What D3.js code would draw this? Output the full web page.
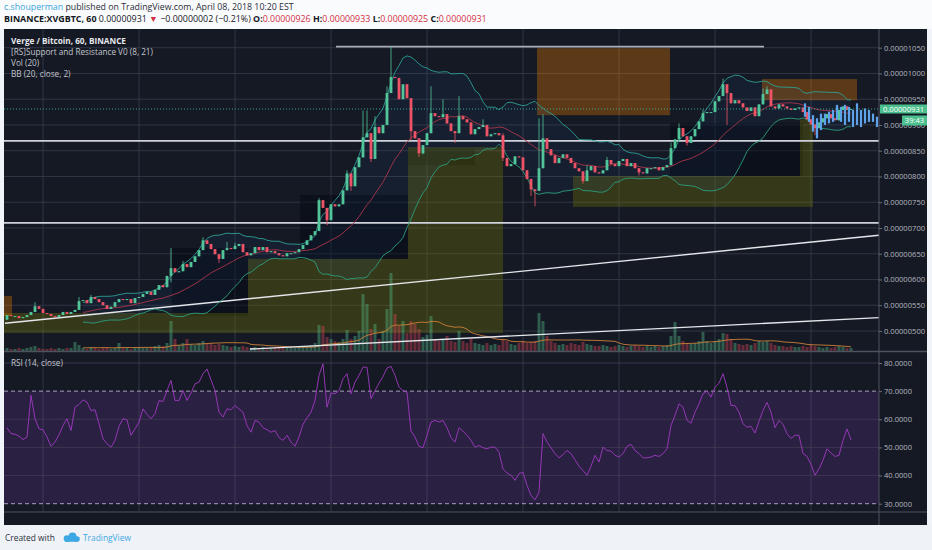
<!DOCTYPE html>
<html lang="en">
<head>
<meta charset="UTF-8">
<title>Verge / Bitcoin, 60, BINANCE</title>
<script src="https://d3js.org/d3.v7.min.js"></script>
<style>
    body { margin: 0; background: #f1f4f9; }
    svg { display: block; }
    .ax text { fill: #b2b5be; font-family: "Open Sans", sans-serif; font-size: 7.6px; }
    .ax .domain { display: none; }
    .ax line { stroke: #6a6f7b; }
</style>
</head>
<body>
<svg id="chart" width="932" height="550"></svg>
<script>
// hourly closes, in satoshi (1e-8 BTC), Mar 30 15:00 .. Apr 8 10:00
const closes = [
    531, 529, 529, 525, 527, 531, 537, 548, 543, 535,
    533, 529, 527, 531, 537, 533, 537, 541, 558, 560,
    554, 566, 562, 556, 550, 543, 547, 556, 562, 560,
    562, 554, 564, 566, 572, 576, 570, 580, 589, 585,
    607, 622, 614, 616, 630, 624, 634, 645, 657, 676,
    669, 659, 649, 640, 657, 661, 659, 665, 669, 653,
    647, 651, 663, 657, 663, 653, 655, 651, 647, 645,
    651, 651, 653, 659, 667, 676, 686, 694, 754, 739,
    715, 746, 742, 746, 773, 806, 781, 818, 837, 876,
    884, 834, 896, 884, 900, 962, 993, 991, 950, 979,
    952, 888, 874, 845, 861, 884, 923, 917, 915, 921,
    903, 888, 884, 917, 911, 905, 882, 892, 896, 900,
    878, 882, 884, 880, 836, 820, 824, 839, 837, 812,
    795, 775, 772, 816, 874, 853, 841, 826, 836, 843,
    836, 826, 816, 810, 791, 812, 820, 808, 806, 812,
    832, 824, 820, 830, 834, 820, 826, 816, 808, 806,
    816, 816, 818, 812, 818, 822, 855, 872, 894, 878,
    865, 878, 892, 907, 923, 925, 925, 946, 956, 979,
    962, 942, 948, 942, 934, 927, 934, 917, 940, 960,
    969, 936, 932, 940, 936, 932, 929, 932, 934, 925,
    911, 901, 894, 905, 913, 921, 913, 909, 929, 936,
    929, 931
];
const firstOpen = 522;

// visible wicks only (candle index -> price)
const highWicks = { 7: 556, 18: 566, 21: 570, 41: 661, 44: 636, 49: 682, 55: 673, 57: 671, 78: 758, 85: 812,
    89: 928, 90: 928, 92: 917, 95: 975, 96: 1052, 98: 992, 106: 975, 109: 950, 113: 956, 119: 911,
    124: 884, 133: 913, 134: 921, 145: 822, 150: 838, 166: 866, 168: 903, 174: 930, 179: 990, 189: 971, 190: 975 };
const lowWicks = { 41: 595, 53: 632, 80: 705, 86: 772, 91: 828, 101: 870, 103: 838, 104: 843, 112: 865,
    124: 830, 131: 762, 132: 742, 144: 786, 158: 802, 170: 860, 180: 900, 202: 880 };

const volumes = [
    3, 2, 2, 3, 2, 3, 4, 5, 3, 2,
    2, 3, 2, 3, 2, 3, 3, 9, 6, 3,
    2, 4, 3, 2, 3, 3, 2, 3, 8, 3,
    3, 2, 3, 4, 3, 3, 4, 5, 6, 5,
    8, 30, 12, 6, 8, 12, 7, 6, 8, 10,
    7, 8, 6, 7, 6, 5, 4, 5, 4, 5,
    4, 3, 4, 3, 4, 3, 3, 4, 3, 3,
    3, 4, 3, 4, 5, 4, 6, 8, 26, 25,
    14, 12, 10, 9, 12, 21, 12, 15, 20, 57,
    47, 22, 27, 12, 20, 42, 78, 37, 25, 30,
    18, 30, 27, 22, 14, 16, 35, 12, 10, 12,
    15, 10, 9, 20, 10, 8, 12, 8, 7, 6,
    8, 6, 7, 6, 12, 10, 7, 6, 8, 10,
    8, 9, 10, 38, 30, 15, 10, 8, 6, 7,
    6, 8, 7, 6, 9, 7, 6, 5, 5, 6,
    5, 4, 5, 6, 5, 4, 5, 6, 5, 4,
    5, 4, 5, 4, 5, 6, 15, 29, 15, 10,
    8, 7, 8, 10, 19, 10, 8, 10, 12, 18,
    17, 12, 8, 7, 6, 7, 6, 8, 10, 9,
    10, 8, 6, 5, 5, 4, 5, 4, 4, 5,
    4, 6, 5, 4, 3, 4, 3, 4, 5, 4,
    3, 3
];

const rsiValues = [
    57.0, 54.9, 54.7, 54.0, 52.8, 53.7, 68.5, 60.2, 56.6, 56.3,
    53.7, 50.4, 51.9, 54.5, 57.8, 60.2, 56.0, 64.3, 65.3, 66.9,
    66.1, 63.1, 63.4, 58.4, 53.1, 51.3, 50.1, 52.5, 57.5, 60.2,
    59.8, 54.3, 56.6, 59.0, 63.7, 61.7, 60.2, 62.0, 66.7, 66.3,
    70.2, 73.8, 66.7, 66.7, 70.2, 66.7, 69.3, 72.6, 73.2, 76.2,
    77.9, 74.0, 70.2, 62.5, 60.8, 63.7, 63.4, 64.9, 63.7, 62.5,
    57.8, 55.4, 59.6, 59.0, 57.0, 56.3, 55.4, 56.0, 53.5, 52.5,
    54.3, 51.9, 50.4, 53.7, 58.2, 60.5, 62.5, 66.7, 75.6, 79.7,
    64.3, 69.3, 69.1, 70.2, 74.4, 76.2, 69.1, 73.2, 75.6, 78.5,
    78.5, 67.3, 70.2, 72.8, 75.2, 78.2, 78.8, 75.6, 71.4, 70.2,
    69.6, 55.8, 53.7, 50.4, 49.9, 54.3, 59.0, 59.6, 59.0, 59.6,
    57.0, 53.5, 51.9, 57.0, 55.8, 54.3, 52.5, 50.1, 50.7, 49.9,
    49.5, 50.1, 50.1, 48.3, 42.4, 40.9, 40.1, 38.3, 40.7, 41.2,
    36.5, 33.0, 31.4, 34.1, 54.9, 51.9, 49.9, 47.8, 46.3, 47.5,
    48.9, 47.8, 45.6, 43.3, 41.8, 40.1, 43.3, 47.2, 44.8, 50.1,
    48.9, 48.7, 47.2, 46.6, 47.8, 50.4, 51.1, 48.9, 47.8, 46.3,
    46.3, 46.6, 47.2, 46.8, 47.8, 49.5, 57.8, 61.4, 65.5, 64.3,
    59.6, 58.6, 62.5, 65.5, 69.1, 70.0, 67.9, 71.4, 72.8, 76.2,
    71.4, 64.9, 64.9, 62.5, 58.4, 57.2, 57.5, 55.1, 59.3, 63.1,
    66.0, 62.5, 57.0, 59.6, 58.2, 54.9, 53.2, 54.3, 54.3, 47.8,
    46.8, 44.0, 40.1, 42.4, 45.4, 49.5, 48.0, 46.8, 47.2, 52.5,
    56.6, 52.7
];

// blue projected bars, from hour 199.5 every hour
const projTops = [942, 935, 919, 913, 922, 922, 926, 929, 939, 935, 939, 935, 929, 942, 929, 932, 929, 922, 916];
const projBottoms = [916, 906, 887, 874, 890, 900, 903, 906, 910, 906, 900, 906, 896, 900, 896, 903, 906, 906, 896];

// [RS]Support and Resistance zones (hour offsets, prices)
const resistanceZones = [
    { h0: -0.75, h1: 1.25, top: 568, bottom: 529 },
    { h0: 132.5, h1: 165.75, top: 1049, bottom: 919 },
    { h0: 188.75, h1: 212.5, top: 989, bottom: 948 }
];
const supportZones = [
    { h0: -0.75, h1: 60.25, top: 535, bottom: 496 },
    { h0: 60.25, h1: 100.25, top: 640, bottom: 496 },
    { h0: 100.25, h1: 124, top: 857, bottom: 496 },
    { h0: 141.5, h1: 201.5, top: 801, bottom: 741 },
    { h0: 198.25, h1: 201.5, top: 911, bottom: 801 }
];
const rangeZones = [
    { h0: 41.25, h1: 60.25, top: 661, bottom: 529 },
    { h0: 73.25, h1: 100.25, top: 764, bottom: 640 },
    { h0: 100.25, h1: 117, top: 853, bottom: 822 },
    { h0: 165.75, h1: 199, top: 903, bottom: 801 }
];

// drawn lines
const supportLevels = [869, 710];
const topLevel = { h0: 82.25, h1: 189.25, price: 1052 };
const trendLines = [
    { h0: -0.5, p0: 515, h1: 218, p1: 686 },
    { h0: 60.75, p0: 465, h1: 218, p1: 526 }
];

const priceTicks = d3.range(500, 1051, 50);
const rsiTicks = [30, 40, 50, 60, 70, 80];
const dayTickHours = [9, 33, 57, 81, 105, 129, 153, 177, 201, 216];
const dayLabels = ["31", "Apr", "2", "3", "4", "5", "6", "7", "8", "15:00"];
const lastPrice = 931;

const t0 = Date.UTC(2018, 2, 30, 15);
const hourDate = h => new Date(t0 + h * 3600e3);

const svg = d3.select("#chart");
const font = '"Open Sans", sans-serif';

// panes
const L = 4, R = 879, TOP = 29, MAINB = 351, RSIB = 512, BOT = 525, AXR = 927;

const x = d3.scaleUtc().domain([hourDate(0), hourDate(211)]).range([7, 851]);
const y = d3.scaleLinear().domain([500, 1050]).range([331, 47.7]);
const yVol = d3.scaleLinear().domain([0, 80]).range([MAINB, MAINB - 80]);
const yRsi = d3.scaleLinear().domain([30, 80]).range([503.7, 363]);

// header
svg.append("rect").attr("width", 932).attr("height", TOP).attr("fill", "#fafbfd");
const h1 = svg.append("text").attr("x", 4).attr("y", 10)
    .attr("font-family", font).attr("font-size", 8.8).attr("fill", "#2a2e39");
h1.append("tspan").attr("fill", "#3aa6dd").text("c.shouperman");
h1.append("tspan").text(" published on TradingView.com, April 08, 2018 10:20 EST");

const red = "#d42d3d";
const parts = [
    { t: "BINANCE:XVGBTC, 60 ", b: true }, { t: "0.00000931 " }, { t: "\u25BC ", c: red },
    { t: "\u22120.00000002 (\u22120.21%) " },
    { t: "O:", b: true }, { t: "0.00000926 ", c: red }, { t: "H:", b: true }, { t: "0.00000933 ", c: red },
    { t: "L:", b: true }, { t: "0.00000925 ", c: red }, { t: "C:", b: true }, { t: "0.00000931", c: red }
];
const h2 = svg.append("text").attr("x", 4).attr("y", 21.5)
    .attr("font-family", font).attr("font-size", 8.9).attr("fill", "#131722");
parts.forEach(p => h2.append("tspan").attr("font-weight", p.b ? "bold" : null)
    .attr("fill", p.c || null).text(p.t));

// chart background
svg.append("rect").attr("x", L).attr("y", TOP).attr("width", AXR - L).attr("height", BOT - TOP).attr("fill", "#151924");

svg.append("defs").call(d => {
    d.append("clipPath").attr("id", "mainClip").append("rect")
        .attr("x", L).attr("y", TOP).attr("width", R - L).attr("height", MAINB - TOP);
    d.append("clipPath").attr("id", "rsiClip").append("rect")
        .attr("x", L).attr("y", MAINB).attr("width", R - L).attr("height", RSIB - MAINB);
    d.append("clipPath").attr("id", "timeClip").append("rect")
        .attr("x", L).attr("y", RSIB).attr("width", R - L).attr("height", BOT - RSIB);
});

// grid
const gridColor = "#303644";
const grid = svg.append("g");
grid.selectAll(".vg").data(dayTickHours.slice(0, 9)).join("line")
    .attr("x1", h => x(hourDate(h))).attr("x2", h => x(hourDate(h)))
    .attr("y1", TOP).attr("y2", RSIB).attr("stroke", gridColor);
grid.selectAll(".hg").data(priceTicks).join("line")
    .attr("x1", L).attr("x2", R).attr("y1", d => y(d)).attr("y2", d => y(d)).attr("stroke", gridColor);

// main pane
const main = svg.append("g").attr("clip-path", "url(#mainClip)");

const zoneRect = (g, data, fill) => g.selectAll(null).data(data).join("rect")
    .attr("x", d => x(hourDate(d.h0))).attr("width", d => x(hourDate(d.h1)) - x(hourDate(d.h0)))
    .attr("y", d => y(d.top)).attr("height", d => y(d.bottom) - y(d.top)).attr("fill", fill);
zoneRect(main, rangeZones, "rgba(3,6,16,0.45)");
zoneRect(main, supportZones, "rgba(128,128,0,0.3)");
zoneRect(main, resistanceZones, "rgba(230,120,0,0.35)");

const candles = closes.map((c, i) => {
    const o = i === 0 ? firstOpen : closes[i - 1];
    return {
        t: hourDate(i), o, c,
        h: highWicks[i] !== undefined ? highWicks[i] : Math.max(o, c),
        l: lowWicks[i] !== undefined ? lowWicks[i] : Math.min(o, c),
        v: volumes[i]
    };
});
const up = "#53c59a", down = "#ee5468";

// Bollinger Bands (20, close, 2)
const bb = [];
closes.forEach((c, i) => {
    if (i < 19) return;
    const win = closes.slice(i - 19, i + 1);
    const m = d3.mean(win);
    const sd = Math.sqrt(d3.mean(win, v => (v - m) * (v - m)));
    bb.push({ t: hourDate(i), m, u: m + 2 * sd, lo: m - 2 * sd });
});
main.append("path").datum(bb).attr("fill", "rgba(40,120,200,0.07)")
    .attr("d", d3.area().x(d => x(d.t)).y0(d => y(d.lo)).y1(d => y(d.u)));

// volume
main.selectAll(".vol").data(candles).join("rect")
    .attr("x", d => x(d.t) - 1.5).attr("width", 3)
    .attr("y", d => yVol(d.v)).attr("height", d => MAINB - yVol(d.v))
    .attr("fill", d => d.c >= d.o ? "rgba(83,185,135,0.42)" : "rgba(235,77,92,0.38)");
const volMa = [];
volumes.forEach((v, i) => { if (i >= 19) volMa.push({ t: hourDate(i), v: d3.mean(volumes.slice(i - 19, i + 1)) }); });
main.append("path").datum(volMa).attr("fill", "none").attr("stroke", "#d4843a").attr("stroke-opacity", 0.85)
    .attr("d", d3.line().x(d => x(d.t)).y(d => yVol(d.v)));

// drawn levels & trend lines
main.selectAll(".lvl").data(supportLevels).join("line")
    .attr("x1", L).attr("x2", R).attr("y1", d => y(d)).attr("y2", d => y(d))
    .attr("stroke", "#cfd2da").attr("stroke-width", 1.8);
main.append("line").attr("x1", x(hourDate(topLevel.h0))).attr("x2", x(hourDate(topLevel.h1)))
    .attr("y1", y(topLevel.price)).attr("y2", y(topLevel.price)).attr("stroke", "#a9adb6").attr("stroke-width", 1.6);
main.selectAll(".tl").data(trendLines).join("line")
    .attr("x1", d => x(hourDate(d.h0))).attr("y1", d => y(d.p0))
    .attr("x2", d => x(hourDate(d.h1))).attr("y2", d => y(d.p1))
    .attr("stroke", "#e4e6eb").attr("stroke-width", 1.4);

// BB lines
const bbLine = key => d3.line().x(d => x(d.t)).y(d => y(d[key]));
main.append("path").datum(bb).attr("fill", "none").attr("stroke", "#2c9d92").attr("stroke-width", 0.9).attr("d", bbLine("u"));
main.append("path").datum(bb).attr("fill", "none").attr("stroke", "#2c9d7a").attr("stroke-width", 0.9).attr("d", bbLine("lo"));
main.append("path").datum(bb).attr("fill", "none").attr("stroke", "#a8344a").attr("stroke-width", 0.9).attr("d", bbLine("m"));

// candles
const cg = main.selectAll(".candle").data(candles).join("g");
cg.append("line").attr("x1", d => x(d.t)).attr("x2", d => x(d.t))
    .attr("y1", d => y(d.h)).attr("y2", d => y(d.l))
    .attr("stroke", d => d.c >= d.o ? up : down).attr("stroke-width", 0.8);
cg.append("rect").attr("x", d => x(d.t) - 1.4).attr("width", 2.8)
    .attr("y", d => y(Math.max(d.o, d.c)))
    .attr("height", d => Math.max(1, Math.abs(y(d.o) - y(d.c))))
    .attr("fill", d => d.c >= d.o ? up : down);

// projected bars
const proj = projTops.map((tp, k) => ({ t: hourDate(199.5 + k), top: tp, bottom: projBottoms[k] }));
main.selectAll(".proj").data(proj).join("rect")
    .attr("x", d => x(d.t) - 1.1).attr("width", 2.2)
    .attr("y", d => y(d.top)).attr("height", d => y(d.bottom) - y(d.top))
    .attr("fill", "#5ea3ea");

// last price line
main.append("line").attr("x1", L).attr("x2", R).attr("y1", y(lastPrice)).attr("y2", y(lastPrice))
    .attr("stroke", "#3fb6a0").attr("stroke-width", 0.9).attr("stroke-dasharray", "1,2");

// legend
const legend = [
    { t: "Verge / Bitcoin, 60, BINANCE", b: true },
    { t: "[RS]Support and Resistance V0 (8, 21)" },
    { t: "Vol (20)" },
    { t: "BB (20, close, 2)" }
];
svg.selectAll(".leg").data(legend).join("text")
    .attr("x", 11).attr("y", (d, i) => 43.5 + i * 11.2)
    .attr("font-family", font).attr("font-size", 8.2)
    .attr("font-weight", d => d.b ? "bold" : null)
    .attr("fill", d => d.b ? "#e6e8ee" : "#c3c6ce").text(d => d.t);

// RSI pane
const rsiG = svg.append("g").attr("clip-path", "url(#rsiClip)");
rsiG.append("rect").attr("x", L).attr("width", R - L).attr("y", yRsi(70)).attr("height", yRsi(30) - yRsi(70))
    .attr("fill", "rgba(128,60,190,0.2)");
rsiG.selectAll(".rg").data([40, 50, 60, 80]).join("line")
    .attr("x1", L).attr("x2", R).attr("y1", d => yRsi(d)).attr("y2", d => yRsi(d))
    .attr("stroke", "#3c3550");
rsiG.selectAll(".rd").data([70, 30]).join("line")
    .attr("x1", L).attr("x2", R).attr("y1", d => yRsi(d)).attr("y2", d => yRsi(d))
    .attr("stroke", "#a99fc0").attr("stroke-dasharray", "4,3");
rsiG.append("path").datum(rsiValues).attr("fill", "none").attr("stroke", "#a03ac2").attr("stroke-width", 0.9)
    .attr("d", d3.line().x((d, i) => x(hourDate(i))).y(d => yRsi(d)));
svg.append("text").attr("x", 11).attr("y", 365.5).attr("font-family", font).attr("font-size", 8.2)
    .attr("fill", "#c3c6ce").text("RSI (14, close)");

// separators
svg.append("line").attr("x1", L).attr("x2", AXR).attr("y1", MAINB + 0.5).attr("y2", MAINB + 0.5).attr("stroke", "#4d525e").attr("stroke-width", 1.5);
svg.append("line").attr("x1", L).attr("x2", AXR).attr("y1", RSIB).attr("y2", RSIB).attr("stroke", "#4d525e");
svg.append("line").attr("x1", R).attr("x2", R).attr("y1", TOP).attr("y2", BOT).attr("stroke", "#4d525e");

// axes
svg.append("g").attr("class", "ax").attr("transform", `translate(${R},0)`)
    .call(d3.axisRight(y).tickValues(priceTicks).tickSize(3).tickPadding(2)
        .tickFormat(v => (v / 1e8).toFixed(8)));
svg.append("g").attr("class", "ax").attr("transform", `translate(${R},0)`)
    .call(d3.axisRight(yRsi).tickValues(rsiTicks).tickSize(3).tickPadding(2)
        .tickFormat(v => v.toFixed(4)));
svg.append("g").attr("class", "ax").attr("clip-path", "url(#timeClip)")
    .attr("transform", `translate(0,${RSIB})`)
    .call(d3.axisBottom(x).tickValues(dayTickHours.map(hourDate)).tickSize(0).tickPadding(4)
        .tickFormat((d, i) => dayLabels[i]));

// price & timer labels
const py = y(lastPrice);
svg.append("rect").attr("x", R + 1).attr("y", py - 4.5).attr("width", AXR - R - 1).attr("height", 9).attr("fill", "#4cbf8e");
svg.append("text").attr("x", R + 4).attr("y", py + 2.7).attr("font-family", font).attr("font-size", 7.6)
    .attr("fill", "#ffffff").text((lastPrice / 1e8).toFixed(8));
svg.append("rect").attr("x", 902).attr("y", py + 6.5).attr("width", AXR - 902).attr("height", 10).attr("fill", "#4cbf8e");
svg.append("text").attr("x", 914.5).attr("y", py + 14.2).attr("text-anchor", "middle").attr("font-family", font)
    .attr("font-size", 7.6).attr("fill", "#ffffff").text("39:43");

// footer
svg.append("rect").attr("x", 0).attr("y", BOT).attr("width", 932).attr("height", 550 - BOT).attr("fill", "#eff2f7");
svg.append("text").attr("x", 5).attr("y", 541).attr("font-family", font).attr("font-size", 8.4)
    .attr("fill", "#2a2e39").text("Created with");
const logo = svg.append("g").attr("fill", "#3da8e4");
[[67, 538.5, 3.3], [72.5, 536.5, 4], [77, 539, 2.8]].forEach(c =>
    logo.append("circle").attr("cx", c[0]).attr("cy", c[1]).attr("r", c[2]));
logo.append("rect").attr("x", 65).attr("y", 538.5).attr("width", 13).attr("height", 3.3);
svg.append("text").attr("x", 83).attr("y", 541).attr("font-family", font).attr("font-size", 8.4)
    .attr("fill", "#3da8e4").text("TradingView");
</script>
</body>
</html>
